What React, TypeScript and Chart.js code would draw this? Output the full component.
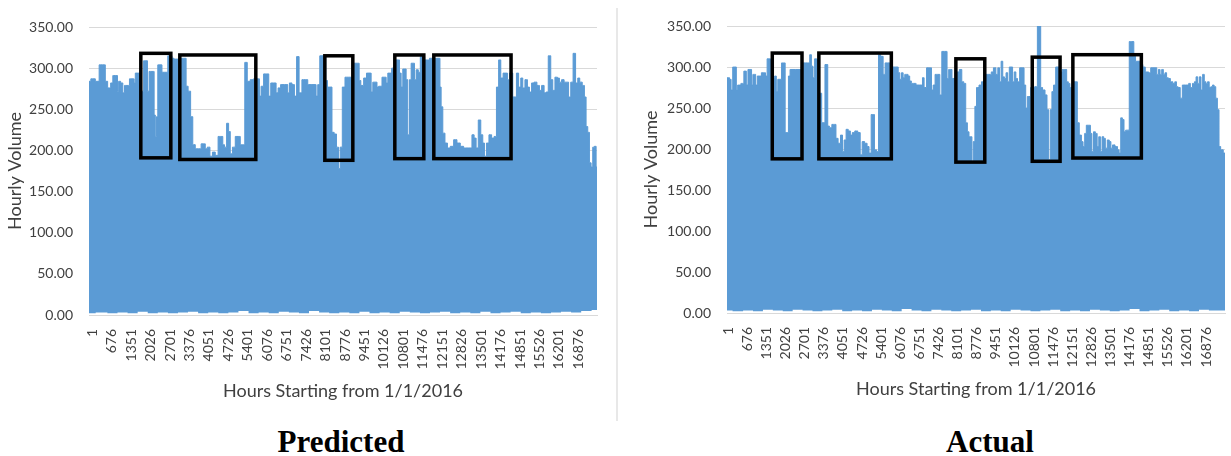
import React, { useEffect, useRef } from "react";
import { Chart, registerables } from "chart.js";

Chart.register(...registerables);

// ---------- DATA ----------
const xTickLabels = [1, 676, 1351, 2026, 2701, 3376, 4051, 4726, 5401, 6076, 6751, 7426, 8101, 8776, 9451, 10126, 10801, 11476, 12151, 12826, 13501, 14176, 14851, 15526, 16201, 16876];

// Predicted: upper envelope of hourly volume (hour, volume)
const predHours = [-114, 13, 198, 279, 429, 475, 591, 684, 742, 857, 892, 938, 1031, 1089, 1146, 1262, 1320, 1436, 1470, 1517, 1609, 1667, 1748, 1817, 1898, 1933, 2014, 2130, 2165, 2211, 2246, 2303, 2396, 2442, 2593, 2651, 2743, 2789, 2882, 3056, 3113, 3229, 3287, 3368, 3460, 3518, 3634, 3750, 3808, 3900, 3946, 4039, 4131, 4212, 4328, 4409, 4502, 4560, 4617, 4710, 4756, 4826, 4907, 5022, 5103, 5173, 5254, 5335, 5427, 5543, 5659, 5774, 5832, 5890, 6006, 6098, 6156, 6237, 6353, 6411, 6492, 6584, 6758, 6816, 6874, 6990, 7047, 7140, 7221, 7336, 7452, 7510, 7741, 7799, 7857,
  7940, 8091, 8126, 8206, 8287, 8357, 8438, 8519, 8577, 8635, 8727, 8820, 8959, 9016,
  9167, 9248, 9283, 9364, 9480, 9561, 9653, 9711, 9769, 9862, 9908, 9977, 10024, 10093, 10174, 10232, 10290, 10348, 10440, 10521, 10637, 10695, 10752, 10810, 10868, 10926, 10984, 11042, 11100, 11157, 11215, 11273, 11366, 11412, 11481, 11597, 11678, 11736, 12060, 12083, 12141, 12199, 12291, 12372, 12488, 12604, 12719, 12835, 12951, 13147, 13217, 13298, 13356, 13448, 13529, 13587, 13645, 13726, 13819, 13911, 13992, 14073, 14143, 14223, 14304, 14374, 14455, 14513, 14686, 14767, 14837, 14918, 14976, 15068, 15149, 15207, 15299, 15380, 15496, 15554, 15647, 15728, 15785, 15878, 15959, 16017, 16110, 16190, 16248, 16341, 16422, 16503, 16572, 16653, 16734, 16827, 16885, 16965, 17058, 17116, 17174, 17232, 17290, 17347, 17405, 17463, 17524];
const predVolume = [284, 287, 284, 304, 304, 284, 276, 282, 291, 291, 272, 284, 282, 270, 279, 279, 287, 287, 282, 294, 294, 293, 272, 309, 309, 272, 296, 296, 243, 217, 241, 304, 304, 295, 295, 315, 315, 312, 311, 311, 312, 312, 278, 272, 241, 207, 202, 202, 208, 208, 202, 204, 193, 198, 194, 217, 217, 207, 204, 233, 223, 196, 204, 217, 217, 207, 207, 307, 284, 286, 287, 287, 266, 278, 293, 293, 266, 282, 282, 270, 276, 280, 280, 270, 282, 280, 266, 314, 270, 286, 286, 280, 280, 266, 280,
  315, 315, 285, 277, 277, 222, 220, 204, 178, 204, 277, 289, 289, 285,
  306, 306, 285, 279, 288, 294, 294, 271, 283, 283, 277, 278, 278, 289, 289, 282, 294, 294, 300, 310, 310, 294, 277, 299, 299, 286, 219, 286, 306, 306, 286, 298, 295, 314, 314, 310, 310, 312, 312, 277, 253, 221, 209, 203, 205, 213, 209, 205, 203, 203, 219, 215, 203, 237, 219, 209, 193, 209, 219, 215, 217, 277, 310, 288, 294, 294, 286, 294, 265, 294, 277, 288, 276, 286, 277, 271, 282, 283, 279, 273, 279, 270, 271, 315, 286, 273, 289, 288, 283, 286, 283, 283, 265, 283, 318, 282, 288, 283, 279, 265, 229, 222, 185, 180, 204, 205, 180];

// Predicted: lower envelope
const predLowHours = [-114, 350, 700, 1050, 1400, 1750, 2100, 2450, 2800, 3150, 3500, 3850, 4200, 4550, 4900, 5250, 5600, 5950, 6300, 6650, 7000, 7350, 7700, 8050, 8400, 8750, 9100, 9450, 9800, 10150, 10500, 10850, 11200, 11550, 11900, 12250, 12600, 12950, 13300, 13650, 14000, 14350, 14700, 15050, 15400, 15750, 16100, 16450, 16800, 17150, 17524];
const predLowVolume = [2, 3, 2, 3, 2, 4, 2, 3, 2, 3, 4, 2, 3, 2, 3, 5, 2, 3, 2, 4, 3, 2, 5, 3, 2, 3, 2, 4, 2, 3, 2, 4, 3, 2, 3, 4, 2, 3, 2, 4, 2, 3, 4, 2, 3, 2, 3, 4, 3, 5, 6];

// Actual: upper envelope
const actHours = [-44, 13, 71, 129, 187, 268, 303, 361, 419, 476, 534, 569, 615, 662, 731, 800, 847, 893, 939, 997, 1055, 1148, 1194, 1286, 1344, 1402, 1460, 1518, 1611, 1668, 1726, 1773, 1842, 1923, 1981, 2039, 2097, 2155, 2212, 2559, 2733, 2849, 2907, 2965, 3022, 3080, 3161, 3254, 3346, 3485, 3543, 3601, 3717, 3775, 3833, 3925, 4006, 4064, 4122, 4203, 4272, 4353, 4411, 4527, 4620, 4701, 4758, 4874, 4932, 5013, 5082, 5129, 5198, 5279, 5337, 5429, 5511, 5569, 5684, 5858, 5974, 6031, 6089, 6147, 6205, 6263, 6321, 6379, 6437, 6494, 6610,
  6657, 6831, 6888, 6946, 7062, 7143, 7213, 7259, 7351, 7444, 7502, 7583, 7699, 7756, 7814, 7872, 7930, 8104, 8219, 8277, 8358, 8416, 8474, 8532, 8590, 8624, 8682, 8740, 8798, 8914, 8972, 9145, 9261, 9319, 9411, 9492, 9550, 9608, 9666, 9724, 9782, 9840, 9897, 9955, 10013, 10071, 10129, 10187, 10245, 10337, 10418, 10476, 10534, 10592, 10766, 10881, 10955, 11015, 11055, 11147, 11228, 11286, 11344, 11402, 11460, 11518, 11610, 11691, 11749, 11842, 11923, 11981, 12038, 12096, 12212, 12305, 12351, 12444, 12501, 12559, 12617, 12675, 12768, 12814, 12872, 12930, 12999, 13057, 13115, 13173, 13231, 13288, 13346, 13427, 13485, 13543, 13601, 13717, 13775, 13833, 13890, 13948, 14006, 14064, 14122, 14203, 14295, 14353, 14411, 14527, 14585, 14700, 14758, 14816, 14874, 14967, 15105, 15163, 15221, 15279, 15337, 15395, 15452, 15510, 15568, 15661, 15742, 15800, 15858, 15915, 16008, 16066, 16239, 16286, 16355, 16436, 16494, 16551, 16609, 16667, 16725, 16783, 16841, 16899, 16957, 17015, 17073, 17130, 17188, 17246, 17304, 17362, 17420, 17545];
const actVolume = [287, 287, 285, 272, 300, 300, 272, 278, 278, 280, 280, 295, 295, 278, 297, 297, 278, 291, 291, 278, 289, 289, 293, 293, 289, 310, 310, 309, 287, 289, 270, 285, 285, 305, 305, 220, 220, 289, 297, 297, 305, 305, 315, 301, 287, 310, 309, 268, 232, 303, 228, 226, 230, 230, 213, 207, 217, 197, 211, 224, 222, 217, 220, 222, 220, 193, 209, 207, 203, 195, 242, 242, 199, 197, 315, 313, 291, 305, 305, 300, 300, 293, 285, 293, 287, 291, 291, 289, 283, 280, 280,
  278, 278, 287, 275, 299, 299, 272, 278, 291, 291, 266, 319, 319, 286, 297, 297, 286, 294, 297, 282, 280, 232, 221, 215, 215, 185, 209, 252, 275, 278, 282, 291, 291, 294, 299, 291, 299, 282, 307, 288, 286, 293, 282, 300, 300, 282, 294, 286, 282, 299, 299, 278, 250, 264, 275, 276, 350, 350, 275, 272, 266, 248, 187, 248, 270, 278, 300, 300, 294, 297, 297, 282, 280, 275, 282, 282, 232, 217, 209, 203, 219, 229, 229, 219, 197, 221, 219, 203, 215, 197, 215, 213, 201, 211, 209, 201, 205, 203, 199, 195, 238, 236, 221, 223, 223, 331, 331, 313, 307, 307, 303, 300, 294, 294, 293, 299, 299, 291, 297, 291, 297, 291, 293, 287, 286, 282, 280, 282, 276, 275, 262, 278, 278, 280, 275, 280, 282, 288, 280, 288, 272, 291, 282, 280, 282, 275, 276, 278, 276, 262, 248, 203, 199, 195];

// Actual: lower envelope
const actLowHours = [-44, 350, 700, 1050, 1400, 1750, 2100, 2450, 2800, 3150, 3500, 3850, 4200, 4550, 4900, 5250, 5600, 5950, 6300, 6650, 7000, 7350, 7700, 8050, 8400, 8750, 9100, 9450, 9800, 10150, 10500, 10850, 11200, 11550, 11900, 12250, 12600, 12950, 13300, 13650, 14000, 14350, 14700, 15050, 15400, 15750, 16100, 16450, 16800, 17150, 17545];
const actLowVolume = [3, 2, 3, 2, 4, 3, 2, 4, 3, 2, 3, 4, 2, 3, 2, 4, 3, 2, 5, 3, 2, 4, 3, 2, 3, 4, 2, 3, 2, 4, 3, 2, 3, 4, 2, 3, 2, 4, 3, 2, 3, 5, 2, 3, 4, 2, 3, 2, 4, 3, 3];

// Highlight boxes (hour range, volume range)
const predBoxStart = [1685, 3039, 8074, 10504, 11858];
const predBoxEnd = [2727, 5678, 9046, 11511, 14540];
const predBoxTop = [318, 316, 315, 316, 316];
const predBoxBottom = [191, 189, 188, 190, 190];

const actBoxStart = [1555, 3200, 8039, 10737, 12171];
const actBoxEnd = [2605, 5760, 9060, 11719, 14590];
const actBoxTop = [317, 317, 310, 312, 315];
const actBoxBottom = [188, 188, 184, 185, 189];

const yTitle = "Hourly Volume";
const xTitle = "Hours Starting from 1/1/2016";

// ---------- CHART ----------
const TEXT = "#404040";
const GRID = "#d9d9d9";
const BLUE = "#5b9bd5";

type PanelCfg = {
  hours: number[]; volume: number[];
  lowHours: number[]; lowVolume: number[];
  boxStart: number[]; boxEnd: number[]; boxTop: number[]; boxBottom: number[];
  xMin: number; xMax: number;
  yAxisWidth: number; xAxisHeight: number;
  padTop: number; padRight: number;
  yTitlePad: number; xTitlePad: number;
};

function buildChart(canvas: HTMLCanvasElement, c: PanelCfg) {
  const boxPlugin = {
    id: "boxes",
    afterDatasetsDraw(chart: any) {
      const { ctx, scales } = chart;
      const x = scales.x, y = scales.y;
      ctx.save();
      ctx.strokeStyle = "#000";
      ctx.lineWidth = 3.5;
      ctx.lineJoin = "miter";
      c.boxStart.forEach((s, i) => {
        const l = x.getPixelForValue(s);
        const r = x.getPixelForValue(c.boxEnd[i]);
        const t = y.getPixelForValue(c.boxTop[i]);
        const b = y.getPixelForValue(c.boxBottom[i]);
        ctx.strokeRect(l, t, r - l, b - t);
      });
      ctx.restore();
    },
  };

  const upper = c.hours.map((h, i) => ({ x: h, y: c.volume[i] }));
  const lower = c.lowHours.map((h, i) => ({ x: h, y: c.lowVolume[i] }));

  return new Chart(canvas, {
    type: "line",
    data: {
      datasets: [
        {
          data: upper,
          stepped: "middle",
          fill: "+1",
          backgroundColor: BLUE,
          borderColor: BLUE,
          borderWidth: 1,
          pointRadius: 0,
        },
        {
          data: lower,
          stepped: "middle",
          fill: false,
          borderColor: BLUE,
          borderWidth: 0,
          pointRadius: 0,
        },
      ],
    },
    options: {
      animation: false,
      responsive: false,
      devicePixelRatio: 1,
      layout: { padding: { top: c.padTop, right: c.padRight, left: 0, bottom: 0 } },
      plugins: { legend: { display: false }, tooltip: { enabled: false } },
      scales: {
        x: {
          type: "linear",
          min: c.xMin,
          max: c.xMax,
          afterBuildTicks: (s: any) => {
            s.ticks = xTickLabels.map((v) => ({ value: v }));
          },
          afterFit: (s: any) => {
            s.height = c.xAxisHeight;
          },
          grid: { display: false, drawTicks: false },
          border: { display: true, color: GRID, width: 1 },
          ticks: {
            autoSkip: false,
            minRotation: 90,
            maxRotation: 90,
            padding: 14,
            color: TEXT,
            font: { family: "Lato", size: 14 },
            callback: (v: any) => String(v),
          },
          title: {
            display: true,
            text: xTitle,
            color: TEXT,
            font: { family: "Lato", size: 18 },
            padding: { top: 0, bottom: c.xTitlePad },
          },
        },
        y: {
          min: 0,
          max: 350,
          afterFit: (s: any) => {
            s.width = c.yAxisWidth;
          },
          grid: { color: GRID, lineWidth: 1, drawTicks: false },
          border: { display: false },
          ticks: {
            stepSize: 50,
            padding: 16,
            color: TEXT,
            font: { family: "Lato", size: 14 },
            callback: (v: any) => Number(v).toFixed(2),
          },
          title: {
            display: true,
            text: yTitle,
            color: TEXT,
            font: { family: "Lato", size: 18 },
            padding: { top: c.yTitlePad, bottom: 0 },
          },
        },
      },
    },
    plugins: [boxPlugin],
  } as any);
}

function ChartPanel({ cfg, left, width }: { cfg: PanelCfg; left: number; width: number }) {
  const ref = useRef<HTMLCanvasElement | null>(null);
  useEffect(() => {
    if (!ref.current) return;
    const ch = buildChart(ref.current, cfg);
    return () => ch.destroy();
  }, []);
  return (
    <canvas
      ref={ref}
      width={width}
      height={420}
      style={{ position: "absolute", left, top: 0, width, height: 420 }}
    />
  );
}

const predCfg: PanelCfg = {
  hours: predHours, volume: predVolume,
  lowHours: predLowHours, lowVolume: predLowVolume,
  boxStart: predBoxStart, boxEnd: predBoxEnd, boxTop: predBoxTop, boxBottom: predBoxBottom,
  xMin: -114, xMax: 17524,
  yAxisWidth: 89, xAxisHeight: 105,
  padTop: 27, padRight: 13,
  yTitlePad: 4, xTitlePad: 18,
};

const actCfg: PanelCfg = {
  hours: actHours, volume: actVolume,
  lowHours: actLowHours, lowVolume: actLowVolume,
  boxStart: actBoxStart, boxEnd: actBoxEnd, boxTop: actBoxTop, boxBottom: actBoxBottom,
  xMin: -44, xMax: 17545,
  yAxisWidth: 90, xAxisHeight: 107,
  padTop: 26, padRight: 3,
  yTitlePad: 3, xTitlePad: 20,
};

const captionStyle: React.CSSProperties = {
  position: "absolute",
  top: 426,
  width: 300,
  height: 31,
  lineHeight: "31px",
  textAlign: "center",
  fontFamily: "'Liberation Serif', 'Times New Roman', serif",
  fontWeight: "bold",
  fontSize: 31,
  color: "#000",
};

export default function App() {
  return (
    <div
      style={{
        position: "fixed",
        left: 0,
        top: 0,
        width: 1231,
        height: 456,
        overflow: "hidden",
        background: "#fff",
      }}
    >
      <ChartPanel cfg={predCfg} left={0} width={610} />
      <div style={{ position: "absolute", left: 616, top: 8, width: 2, height: 413, background: "#e8e8e8" }} />
      <ChartPanel cfg={actCfg} left={637} width={600} />
      <div style={{ ...captionStyle, left: 341 - 150 }}>Predicted</div>
      <div style={{ ...captionStyle, left: 990 - 150 }}>Actual</div>
    </div>
  );
}
